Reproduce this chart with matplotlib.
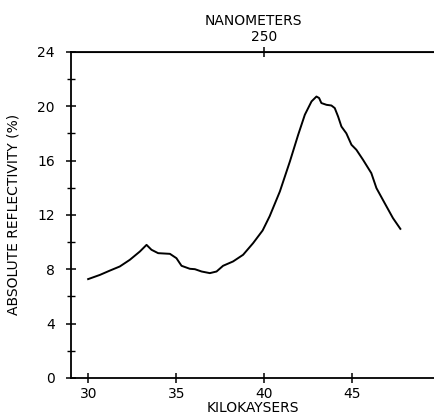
import numpy as np
import matplotlib
matplotlib.use('Agg')
import matplotlib.pyplot as plt

# reflectivity spectrum
kk = [29.98, 30.65, 31.22, 31.78, 32.35, 32.92, 33.3, 33.58, 33.96, 34.63,
      35.0, 35.19, 35.29, 35.76, 36.05, 36.43, 36.9, 37.28, 37.65, 38.22,
      38.79, 39.36, 39.9, 40.3, 40.88, 41.45, 41.92, 42.3, 42.68, 42.96,
      43.11, 43.24, 43.53, 43.81, 44.0, 44.19, 44.38, 44.66, 44.95, 45.23,
      45.61, 46.08, 46.37, 46.84, 47.31, 47.73]
refl = [7.27, 7.58, 7.9, 8.2, 8.69, 9.3, 9.79, 9.43, 9.18, 9.13,
        8.81, 8.44, 8.25, 8.03, 8.0, 7.83, 7.71, 7.83, 8.25, 8.57,
        9.06, 9.92, 10.85, 11.9, 13.72, 15.93, 17.89, 19.37, 20.35, 20.71,
        20.6, 20.23, 20.1, 20.05, 19.86, 19.24, 18.5, 18.0, 17.16, 16.79,
        16.05, 15.07, 13.97, 12.86, 11.76, 10.97]

x_ticks = [30, 35, 40, 45]
y_ticks = [0, 4, 8, 12, 16, 20, 24]
y_minor = [2, 6, 10, 14, 18, 22]
nm_ticks = [250]

fig = plt.figure(figsize=(4.35, 4.18), dpi=100)
ax = fig.add_axes([0.163, 0.096, 0.837, 0.780])

ax.plot(kk, refl, color='black', linewidth=1.4, solid_joinstyle='round')

ax.set_xlim(29, 49.7)
ax.set_ylim(0, 24)
ax.set_xticks(x_ticks)
ax.set_yticks(y_ticks)
ax.set_yticks(y_minor, minor=True)

ax.spines['right'].set_visible(False)
for s in ['left', 'bottom', 'top']:
    ax.spines[s].set_linewidth(1.3)

ax.tick_params(axis='both', which='major', direction='inout', length=7,
               width=1.1, labelsize=10, color='black')
ax.tick_params(axis='y', which='minor', direction='inout', length=6, width=1.0)
ax.tick_params(axis='y', pad=8)
ax.tick_params(axis='x', pad=3)

ax.set_xlabel('KILOKAYSERS', fontsize=10, labelpad=0)
ax.set_ylabel('ABSOLUTE REFLECTIVITY (%)', fontsize=10, labelpad=12)

# top axis in nanometers (nm = 1e4 / kK)
sec = ax.secondary_xaxis('top', functions=(lambda k: 1e4 / np.asarray(k, float),
                                            lambda n: 1e4 / np.asarray(n, float)))
sec.set_xticks(nm_ticks)
sec.tick_params(direction='inout', length=7, width=1.1, labelsize=10, pad=2)
sec.set_xlabel('NANOMETERS', fontsize=10, labelpad=4)

fig.savefig('out.png', dpi=100)
